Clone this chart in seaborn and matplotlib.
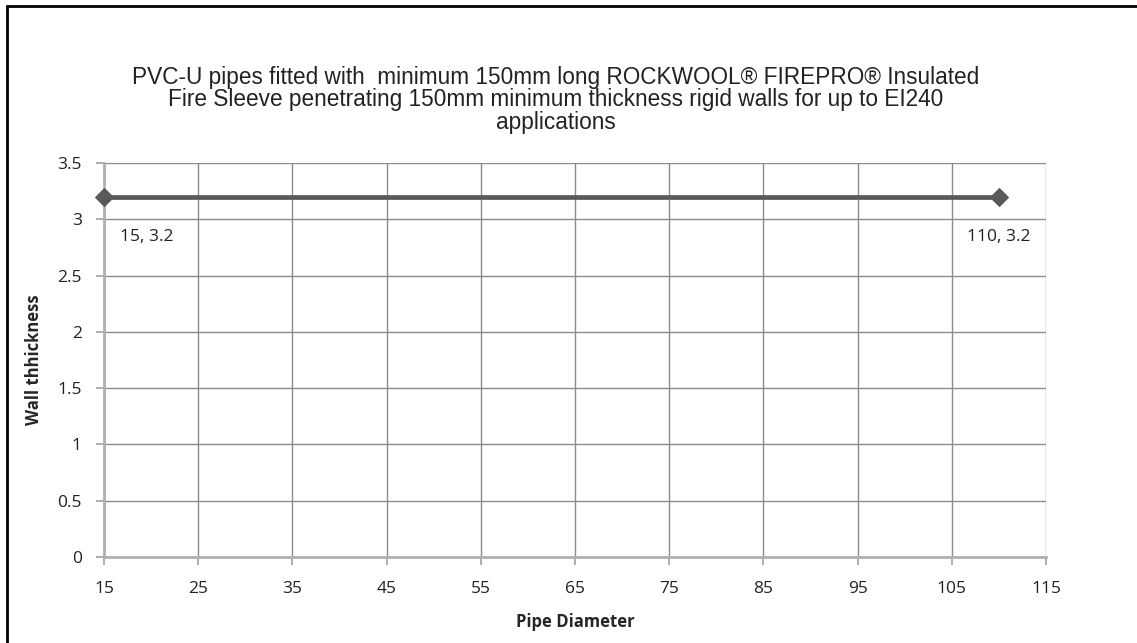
import numpy as np
import pandas as pd
import seaborn as sns
import matplotlib.pyplot as plt
from matplotlib.lines import Line2D

pipe_diameter = [15, 110]
wall_thickness = [3.2, 3.2]
point_labels = ['15, 3.2', '110, 3.2']
xticks = [15, 25, 35, 45, 55, 65, 75, 85, 95, 105, 115]
yticks = [0, 0.5, 1, 1.5, 2, 2.5, 3, 3.5]

df = pd.DataFrame({'Pipe Diameter': pipe_diameter, 'Wall thickness': wall_thickness})

sns.set_style('white')
plt.rcParams['font.family'] = ['Open Sans', 'DejaVu Sans']

fig = plt.figure(figsize=(11.37, 6.43), dpi=100)
ax = fig.add_axes([0.0915, 0.1337, 0.9200 - 0.0915, 0.7465 - 0.1337])

sns.lineplot(data=df, x='Pipe Diameter', y='Wall thickness', ax=ax, color='#595959',
             linewidth=3.4, marker='D', markersize=9.5, markeredgecolor='#595959', clip_on=False, zorder=5)

for x, y, t in zip(pipe_diameter, wall_thickness, point_labels):
    ax.annotate(t, (x, y), xytext=(43, -40) if x < 50 else (0, -40), textcoords='offset pixels',
                ha='center', va='center', fontsize=12.5, color='#222222')

ax.set_xlim(15, 115)
ax.set_ylim(0, 3.5)
ax.set_xticks(xticks)
ax.set_yticks(yticks)
ax.set_yticklabels([('%g' % v) for v in yticks])
ax.grid(True, color='#8c8c8c', linewidth=1)
ax.tick_params(axis='both', length=6, color='#a0a0a0', width=1.2, labelsize=12.5,
               labelcolor='#222222', direction='out', bottom=True, left=True)
ax.tick_params(axis='x', pad=11)
ax.tick_params(axis='y', pad=10)
for s in ['top', 'right']:
    ax.spines[s].set_visible(False)
for s in ['left', 'bottom']:
    ax.spines[s].set_color('#b0b0b0')
    ax.spines[s].set_linewidth(2)
ax.set_xlabel('Pipe Diameter', fontsize=12, fontweight='bold', labelpad=12)
ax.set_ylabel('Wall thhickness', fontsize=12, fontweight='bold', labelpad=10)

fig.text(0.489, 0.845, 'PVC-U pipes fitted with  minimum 150mm long ROCKWOOL\u00ae FIREPRO\u00ae Insulated\n'
         'Fire Sleeve penetrating 150mm minimum thickness rigid walls for up to EI240\napplications',
         ha='center', va='center', fontsize=16.3, linespacing=0.97, color='#222222',
         family=['Liberation Sans', 'DejaVu Sans'])

# outer frame (top and left only visible in the crop)
fig.add_artist(Line2D([0.006, 1.0], [0.991, 0.991], color='black', linewidth=2, transform=fig.transFigure))
fig.add_artist(Line2D([0.006, 0.006], [0.0, 0.991], color='black', linewidth=2, transform=fig.transFigure))

fig.savefig('out.png', dpi=100)
